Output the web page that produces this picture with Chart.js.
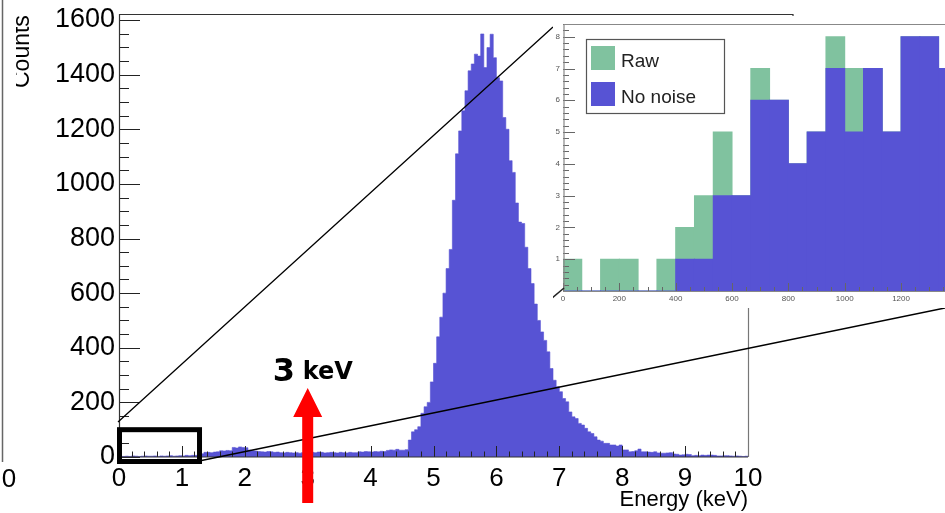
<!DOCTYPE html>
<html><head><meta charset="utf-8">
<script src="https://cdn.jsdelivr.net/npm/chart.js@4.4.1/dist/chart.umd.min.js"></script>
<style>
html,body{margin:0;padding:0;background:#fff;overflow:hidden;width:945px;height:513px;}
#wrap{position:relative;width:945px;height:513px;overflow:hidden;background:#fff;}
#main{position:absolute;left:0;top:0;width:945px;height:513px;}
#inset{position:absolute;left:553px;top:16px;width:440px;height:292px;background:#fff;}
</style></head><body>
<div id="wrap">
<canvas id="main" width="945" height="513"></canvas>
<canvas id="inset" width="440" height="292"></canvas>
</div>
<script>
// ---------- data ----------
const binWidth = 0.05;   // keV, main histogram bin width
const energyMin = 0, energyMax = 10;
const counts = [
  3,2,3,2,4,3,2,3,4,3,3,4,2,4,3,4,5,3,4,5,4,6,5,6,6,
  7,12,17,17,16,18,19,23,22,24,23,
  35,33,37,35,34,25,23,22,20,
  19,18,20,19,17,18,
  16,15,17,16,15,16,14,16,17,15,
  17,16,18,17,15,16,17,16,15,17,16,15,17,16,16,
  19,18,20,19,18,20,19,21,20,
  24,26,25,28,25,25,27,
  62,92,100,111,160,184,200,275,343,440,512,600,
  690,760,940,1110,1194,1268,1341,1414,1439,1475,1468,1549,1426,1499,1548,1462,
  1389,1377,1243,1200,1085,1042,930,860,855,768,690,635,560,500,
  458,427,385,324,281,257,239,214,202,165,147,141,123,117,105,92,86,74,62,58,
  50,50,44,44,40,44,26,26,19,20,23,29,19,19,18,17,19,15,14,14,
  15,16,11,10,7,8,10,9,5,6,5,7,6,7,7,6,4,4,5,5,4,3,4,3,2,3
];
const xTicks = [0,1,2,3,4,5,6,7,8,9,10];
const yTicks = [0,200,400,600,800,1000,1200,1400,1600];

const insetBinCenters = [33.3,100,166.7,233.3,300,366.7,433.3,500,566.7,633.3,700,766.7,833.3,900,966.7,1033.3,1100,1166.7,1233.3,1300,1366.7];
const rawCounts     = [1,0,1,1,0,1,2,3,5,3,7,6,4,5,8,7,7,5,8,8,7];
const noNoiseCounts = [0,0,0,0,0,0,1,1,3,3,6,6,4,5,7,5,7,5,8,8,7];
const insetXTicks = [0,200,400,600,800,1000,1200,1400];
const insetYTicks = [1,2,3,4,5,6,7,8];

const BLUE = '#5753d4';
const GREEN = '#80c29f';

Chart.defaults.font.family = "'Liberation Sans', Arial, sans-serif";
Chart.defaults.color = '#000';

// histogram outline points: bin centres, padded with the outer bin edges (stepped 'middle')
const histPoints = [{x: energyMin, y: counts[0]}]
  .concat(counts.map((c, i) => ({x: energyMin + (i + 0.5) * binWidth, y: c})))
  .concat([{x: energyMax, y: counts[counts.length - 1]}]);

// ---------- main decorations ----------
const mainDecor = {
  id: 'mainDecor',
  afterDatasetsDraw(chart) {
    const {ctx, scales: {x, y}, chartArea: a} = chart;
    ctx.save();
    // inward ticks
    ctx.strokeStyle = '#222'; ctx.lineWidth = 1;
    ctx.beginPath();
    for (let v = 0; v <= 1600; v += 50) {
      const py = Math.round(y.getPixelForValue(v)) + 0.5;
      const len = (v % 200 === 0) ? 21 : 10;
      ctx.moveTo(a.left, py); ctx.lineTo(a.left + len, py);
    }
    for (let i = 0; i <= 50; i++) {
      const px = Math.round(x.getPixelForValue(i * 0.2)) + 0.5;
      const len = (i % 5 === 0) ? 11 : 5.5;
      ctx.moveTo(px, a.bottom); ctx.lineTo(px, a.bottom - len);
    }
    ctx.stroke();
    // frame
    ctx.strokeStyle = '#333'; ctx.lineWidth = 1.2;
    ctx.beginPath();
    ctx.moveTo(a.left + 0.5, a.top); ctx.lineTo(a.left + 0.5, a.bottom);
    ctx.lineTo(a.right, a.bottom);
    ctx.moveTo(a.left, a.top + 0.5); ctx.lineTo(793, a.top + 0.5); ctx.lineTo(793, a.top + 5);
    ctx.stroke();
    ctx.strokeStyle = '#777';
    ctx.beginPath(); ctx.moveTo(a.right + 0.5, 308); ctx.lineTo(a.right + 0.5, a.bottom); ctx.stroke();

    // zoom box 0 - 1.28 keV
    const bx0 = x.getPixelForValue(0) + 0.5, bx1 = x.getPixelForValue(1.28);
    const by0 = y.getPixelForValue(100), by1 = a.bottom + 4.5;
    ctx.strokeStyle = '#000'; ctx.lineWidth = 5;
    ctx.strokeRect(bx0, by0, bx1 - bx0, by1 - by0);
    // zoom lines to the inset
    ctx.lineWidth = 1.3;
    ctx.beginPath();
    ctx.moveTo(118, 422); ctx.lineTo(553, 27);
    ctx.moveTo(bx1 + 2, by1 - 1); ctx.lineTo(945, 308);
    ctx.stroke();

    // red arrow at 3 keV
    const ax = x.getPixelForValue(3);
    ctx.fillStyle = '#ff0000';
    ctx.beginPath();
    ctx.moveTo(ax - 5.5, 503); ctx.lineTo(ax + 5.5, 503); ctx.lineTo(ax + 5.5, 417);
    ctx.lineTo(ax + 14.5, 417); ctx.lineTo(ax, 388); ctx.lineTo(ax - 14.5, 417);
    ctx.lineTo(ax - 5.5, 417); ctx.closePath(); ctx.fill();
    ctx.fillStyle = '#000';
    ctx.textAlign = 'left'; ctx.textBaseline = 'alphabetic';
    ctx.font = "bold 32px 'DejaVu Sans'";
    ctx.fillText('3', ax - 35, 381);
    ctx.font = "bold 24px 'DejaVu Sans'";
    ctx.fillText('keV', ax - 5, 379);

    // outer figure remnants
    ctx.strokeStyle = '#666'; ctx.lineWidth = 1.5;
    ctx.beginPath(); ctx.moveTo(2.5, 0); ctx.lineTo(2.5, 462); ctx.stroke();
    ctx.font = "26px 'Liberation Sans'";
    ctx.textAlign = 'center'; ctx.textBaseline = 'middle';
    ctx.fillText('0', 9, 480);
    ctx.save();
    ctx.beginPath(); ctx.rect(16, 0, 30, 120); ctx.clip();
    ctx.translate(28.5, 88); ctx.rotate(-Math.PI / 2);
    ctx.font = "23px 'Liberation Sans'";
    ctx.textAlign = 'left'; ctx.textBaseline = 'alphabetic';
    ctx.fillText('Counts', 0, 0);
    ctx.restore();
    ctx.restore();
  }
};

new Chart(document.getElementById('main'), {
  type: 'line',
  data: {
    datasets: [{
      label: 'Counts',
      data: histPoints,
      stepped: 'middle', fill: 'origin',
      backgroundColor: BLUE, borderColor: BLUE, borderWidth: 0.6,
      pointRadius: 0, tension: 0
    }]
  },
  options: {
    responsive: false, animation: false, events: [],
    layout: {padding: {left: 0, right: 197, top: 14, bottom: 0}},
    plugins: {legend: {display: false}, tooltip: {enabled: false}},
    scales: {
      x: {
        type: 'linear', min: energyMin, max: energyMax, offset: false,
        grid: {display: false, drawTicks: false}, border: {display: false},
        afterBuildTicks: s => { s.ticks = xTicks.map(v => ({value: v})); },
        ticks: {font: {size: 26}, color: '#000', padding: 6, maxRotation: 0, autoSkip: false, callback: v => String(v)},
        title: {display: true, text: 'Energy (keV)', align: 'end', font: {size: 22}, color: '#000', padding: {top: 0, bottom: 0}},
        afterFit: s => { s.height = 56; s.paddingLeft = 0; s.paddingRight = 0; }
      },
      y: {
        type: 'linear', min: 0, max: 1622,
        grid: {display: false, drawTicks: false}, border: {display: false},
        afterBuildTicks: s => { s.ticks = yTicks.map(v => ({value: v})); },
        ticks: {font: {size: 27}, color: '#000', padding: 4, autoSkip: false, callback: v => String(v)},
        afterFit: s => { s.width = 119; s.paddingTop = 0; s.paddingBottom = 0; }
      }
    }
  },
  plugins: [mainDecor]
});

// ---------- inset ----------
const insetDecor = {
  id: 'insetDecor',
  afterDatasetsDraw(chart) {
    const {ctx, scales: {x, y}, chartArea: a} = chart;
    ctx.save();
    ctx.strokeStyle = '#666'; ctx.lineWidth = 1;
    ctx.beginPath();
    for (let i = 0; i <= 42; i++) {
      const v = i * 0.2;
      const py = Math.round(y.getPixelForValue(v)) + 0.5;
      const len = (i % 5 === 0) ? 12 : 6;
      ctx.moveTo(a.left, py); ctx.lineTo(a.left + len, py);
    }
    for (let v = 0; v <= 1400; v += 50) {
      const px = Math.round(x.getPixelForValue(v)) + 0.5;
      const len = (v % 200 === 0) ? 8 : 4;
      ctx.moveTo(px, a.bottom); ctx.lineTo(px, a.bottom - len);
    }
    ctx.stroke();
    ctx.strokeStyle = '#888'; ctx.lineWidth = 1.2;
    ctx.beginPath();
    ctx.moveTo(a.left + 1, a.bottom); ctx.lineTo(a.left + 1, a.top + 0.5); ctx.lineTo(a.right + 40, a.top + 0.5);
    ctx.moveTo(a.left, a.bottom + 0.5); ctx.lineTo(a.right, a.bottom + 0.5);
    ctx.stroke();
    // small axis break mark
    ctx.strokeStyle = '#222'; ctx.lineWidth = 1.5;
    ctx.beginPath(); ctx.moveTo(a.left - 11, a.bottom + 7); ctx.lineTo(a.left + 1, a.bottom - 3); ctx.stroke();
    ctx.restore();
  },
  afterDraw(chart) {
    const {ctx} = chart;
    const ds = chart.data.datasets;
    const order = [1, 0]; // Raw, No noise
    ctx.save();
    ctx.strokeStyle = '#555'; ctx.lineWidth = 1.2;
    ctx.strokeRect(33.5, 23.5, 138, 74);
    ctx.font = "19px 'Liberation Sans'";
    ctx.textAlign = 'left'; ctx.textBaseline = 'alphabetic';
    order.forEach((di, k) => {
      const top = 30 + k * 36;
      ctx.fillStyle = ds[di].backgroundColor;
      ctx.fillRect(38, top, 24, 24);
      ctx.fillStyle = '#222';
      ctx.fillText(ds[di].label, 68, top + 21);
    });
    ctx.restore();
  }
};

new Chart(document.getElementById('inset'), {
  type: 'bar',
  data: {
    datasets: [
      {label: 'No noise', data: insetBinCenters.map((c, i) => ({x: c, y: noNoiseCounts[i]})),
       backgroundColor: BLUE, borderWidth: 0, inflateAmount: 0.5, barPercentage: 1, categoryPercentage: 1, grouped: false, order: 0},
      {label: 'Raw', data: insetBinCenters.map((c, i) => ({x: c, y: rawCounts[i]})),
       backgroundColor: GREEN, borderWidth: 0, inflateAmount: 0.5, barPercentage: 1, categoryPercentage: 1, grouped: false, order: 1}
    ]
  },
  options: {
    responsive: false, animation: false, events: [],
    layout: {padding: {left: 0, right: 35.6, top: 8, bottom: 0}},
    plugins: {legend: {display: false}, tooltip: {enabled: false}},
    scales: {
      x: {
        type: 'linear', min: 0, max: 1400, offset: false,
        grid: {display: false, drawTicks: false}, border: {display: false},
        afterBuildTicks: s => { s.ticks = insetXTicks.map(v => ({value: v})); },
        ticks: {font: {size: 8}, color: '#555', padding: 3, maxRotation: 0, autoSkip: false, callback: v => String(v)},
        afterFit: s => { s.height = 17; s.paddingLeft = 0; s.paddingRight = 0; }
      },
      y: {
        type: 'linear', min: 0, max: 8.4,
        grid: {display: false, drawTicks: false}, border: {display: false},
        afterBuildTicks: s => { s.ticks = insetYTicks.map(v => ({value: v})); },
        ticks: {font: {size: 8}, color: '#555', padding: 3, autoSkip: false, callback: v => String(v)},
        afterFit: s => { s.width = 10; s.paddingTop = 0; s.paddingBottom = 0; }
      }
    }
  },
  plugins: [insetDecor]
});
</script>
</body></html>
